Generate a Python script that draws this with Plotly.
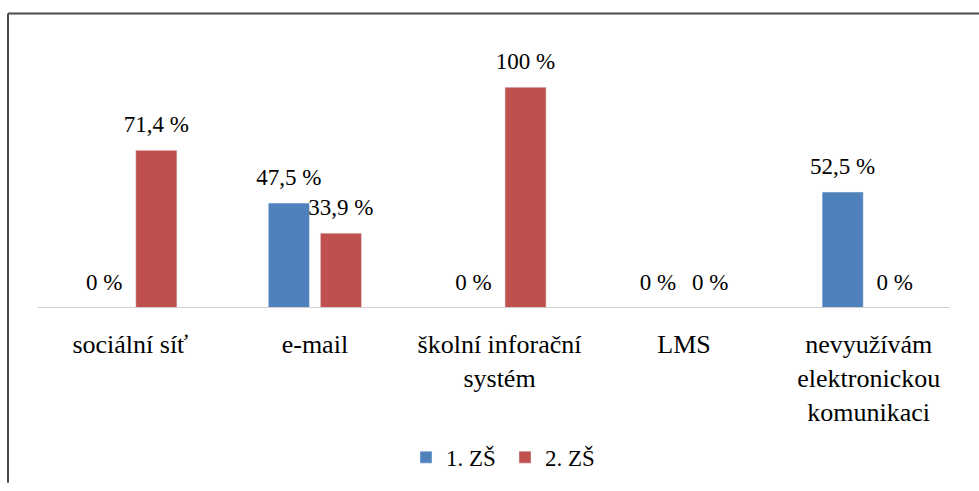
import plotly.graph_objects as go

categories = ["sociální síť", "e-mail", "školní inforační<br>systém", "LMS",
              "nevyužívám<br>elektronickou<br>komunikaci"]
series_names = ["1. ZŠ", "2. ZŠ"]
zs1_values = [0, 47.5, 0, 0, 52.5]
zs2_values = [71.4, 33.9, 100, 0, 0]
zs1_labels = ["0 %", "47,5 %", "0 %", "0 %", "52,5 %"]
zs2_labels = ["71,4 %", "33,9 %", "100 %", "0 %", "0 %"]
colors = ["#4F81BD", "#C0504D"]

FONT = '"Liberation Serif", "Times New Roman", serif'
W, H = 979, 491
L, R, T, B = 38, 18, 43, 178
pw, ph = W - L - R, H - T - B

def px_x(x):
    return (x - L) / pw

def px_y(y):
    return (H - B - y) / ph

fig = go.Figure()
for name, vals, col in zip(series_names, [zs1_values, zs2_values], colors):
    fig.add_trace(go.Bar(name=name, x=categories, y=vals, marker_color=col,
                         offsetgroup=name))
for name, vals, labs in zip(series_names, [zs1_values, zs2_values], [zs1_labels, zs2_labels]):
    fig.add_trace(go.Scatter(x=categories, y=vals, text=labs, mode="markers+text",
                             textposition="top center", showlegend=False, hoverinfo="skip",
                             marker=dict(size=18, opacity=0), offsetgroup=name,
                             cliponaxis=False,
                             textfont=dict(family=FONT, size=23, color="black")))

fig.update_layout(
    width=W, height=H,
    margin=dict(l=L, r=R, t=T, b=B, pad=0),
    paper_bgcolor="white", plot_bgcolor="rgba(0,0,0,0)",
    barmode="group", bargap=0.436, bargroupgap=0.21,
    scattermode="group", scattergap=0.436,
    font=dict(family=FONT, size=23, color="black"),
    xaxis=dict(showline=False, ticks="", ticklabelstandoff=18,
               tickfont=dict(family=FONT, size=26, color="black"), showgrid=False),
    yaxis=dict(range=[0, 120], visible=False, showgrid=False, zeroline=False),
    legend=dict(orientation="h", x=px_x(505), xanchor="center", y=px_y(465), yanchor="middle",
                font=dict(family=FONT, size=23, color="black"), itemwidth=30,
                entrywidth=54),
    showlegend=True,
    shapes=[
        dict(type="line", xref="paper", yref="y", x0=px_x(38), x1=px_x(950),
             y0=0, y1=0, line=dict(color="#D0D0D0", width=2), layer="above"),
        dict(type="line", xref="paper", yref="paper", x0=px_x(8), x1=px_x(979),
             y0=px_y(13), y1=px_y(13), line=dict(color="#4a4a4a", width=2)),
        dict(type="line", xref="paper", yref="paper", x0=px_x(8), x1=px_x(8),
             y0=px_y(13), y1=px_y(491), line=dict(color="#4a4a4a", width=2)),
    ],
)

fig.write_html("out.html", config={"displayModeBar": False},
               post_script="document.body.style.margin='0';")
